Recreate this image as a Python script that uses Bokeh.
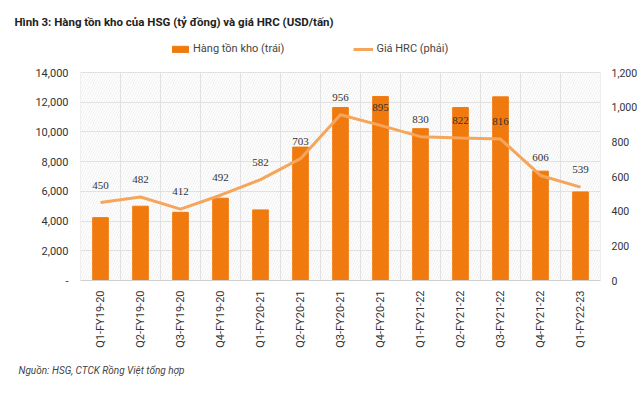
import math
from bokeh.plotting import figure
from bokeh.models import (ColumnDataSource, FactorRange, Range1d, LinearAxis, LabelSet,
                          Legend, LegendItem, NumeralTickFormatter, FixedTicker, Title,
                          BoxAnnotation)
from bokeh.transform import dodge
from bokeh.embed import file_html
from bokeh.resources import INLINE

categories = ["Q1-FY19-20", "Q2-FY19-20", "Q3-FY19-20", "Q4-FY19-20", "Q1-FY20-21",
              "Q2-FY20-21", "Q3-FY20-21", "Q4-FY20-21", "Q1-FY21-22", "Q2-FY21-22",
              "Q3-FY21-22", "Q4-FY21-22", "Q1-FY22-23"]
inventory = [4230, 5000, 4590, 5540, 4750, 8980, 11640, 12380, 10220, 11640, 12360, 7360, 5960]
hrc_price = [450, 482, 412, 492, 582, 703, 956, 895, 830, 822, 816, 606, 539]
left_ticks = [0, 2000, 4000, 6000, 8000, 10000, 12000, 14000]
right_ticks = [0, 200, 400, 600, 800, 1000, 1200]
left_max = 14000
right_max = 1200

title_text = "Hình 3: Hàng tồn kho của HSG (tỷ đồng) và giá HRC (USD/tấn)"
source_text = "Nguồn: HSG, CTCK Rồng Việt tổng hợp"
bar_name = "Hàng tồn kho (trái)"
line_name = "Giá HRC (phải)"

FONT = "Roboto"
BAR_COLOR = "#F07A0E"
LINE_COLOR = "#F6A65C"
TEXT_COLOR = "#333333"
GRID = "#e0e0e0"

# the frame extends above the plotted area to host the legend
PLOT_H = 208
FRAME_H = 244
headroom = FRAME_H / PLOT_H

src = ColumnDataSource(dict(cat=categories, inv=inventory, hrc=hrc_price,
                            lbl=[str(v) for v in hrc_price]))

p = figure(frame_width=520, frame_height=FRAME_H,
           x_range=FactorRange(*categories, range_padding=0),
           y_range=Range1d(0, left_max * headroom), output_backend="svg",
           toolbar_location=None,
           min_border_left=80, min_border_right=36, min_border_top=36, min_border_bottom=106)
p.extra_y_ranges = {"hrc": Range1d(0, right_max * headroom)}

p.outline_line_color = None

# hatched background of the plotting area
p.add_layout(BoxAnnotation(top=left_max, fill_alpha=0, line_alpha=0, hatch_pattern="/",
                           hatch_color="#e4e4e4", hatch_scale=5, hatch_weight=0.6,
                           level="underlay"))

# vertical grid lines at category boundaries (and the plot area's side borders)
for off in (-0.5, 0.5):
    p.segment(x0=dodge("cat", off, range=p.x_range), x1=dodge("cat", off, range=p.x_range),
              y0=0, y1=left_max, source=src, line_color=GRID, line_width=1, level="underlay")

bars = p.vbar(x="cat", top="inv", width=0.39, source=src, fill_color=BAR_COLOR,
              line_color=BAR_COLOR)
line = p.line(x="cat", y="hrc", source=src, y_range_name="hrc", line_color=LINE_COLOR,
              line_width=3)

p.add_layout(LabelSet(x="cat", y="hrc", text="lbl", source=src, y_range_name="hrc",
                      y_offset=14, text_align="center", text_baseline="bottom",
                      text_font=FONT, text_font_size="11px", text_color=TEXT_COLOR))

# axes
p.yaxis.ticker = FixedTicker(ticks=left_ticks)
p.yaxis.formatter = NumeralTickFormatter(format="0,0")
p.yaxis.major_label_overrides = {0: "-"}
ax_right = LinearAxis(y_range_name="hrc", ticker=FixedTicker(ticks=right_ticks),
                      formatter=NumeralTickFormatter(format="0,0"))
p.add_layout(ax_right, "right")

for ax in [p.yaxis[0], ax_right, p.xaxis[0]]:
    ax.major_tick_line_color = None
    ax.minor_tick_line_color = None
    ax.major_tick_out = 0
    ax.major_tick_in = 0
    ax.minor_tick_out = 0
    ax.minor_tick_in = 0
    ax.major_label_text_font = FONT
    ax.major_label_text_color = TEXT_COLOR

p.yaxis[0].axis_line_color = None
ax_right.axis_line_color = None
p.yaxis[0].major_label_text_font_size = "11px"
p.yaxis[0].major_label_standoff = 12
ax_right.major_label_text_font_size = "10.5px"
ax_right.major_label_standoff = 11

p.xaxis.axis_line_color = "#d0d0d0"
p.xaxis.major_label_orientation = math.pi / 2
p.xaxis.major_label_text_font_size = "11px"
p.xaxis.major_label_standoff = 10

p.xgrid.grid_line_color = None
p.ygrid.grid_line_color = GRID
p.ygrid.ticker = FixedTicker(ticks=left_ticks)

# legend
legend = Legend(items=[LegendItem(label=bar_name, renderers=[bars]),
                       LegendItem(label=line_name, renderers=[line])],
                orientation="horizontal", location=(90, 225), margin=0, padding=0,
                spacing=69, glyph_width=20, glyph_height=8, label_height=12,
                label_standoff=3,
                label_text_font=FONT, label_text_font_size="11px", label_text_color="#444444",
                border_line_alpha=0, background_fill_alpha=0)
p.add_layout(legend, "center")

# titles
p.title.text = title_text
p.title.text_font = FONT
p.title.text_font_size = "11.5px"
p.title.text_font_style = "bold"
p.title.text_color = "#222222"
p.title.align = "left"
p.title.offset = -66
p.title.standoff = 15

p.add_layout(Title(text=source_text, text_font=FONT, text_font_size="10px",
                   text_font_style="italic", text_color="#444444", align="left",
                   offset=-62, standoff=24), "below")

open("out.html", "w").write(file_html(p, INLINE))
